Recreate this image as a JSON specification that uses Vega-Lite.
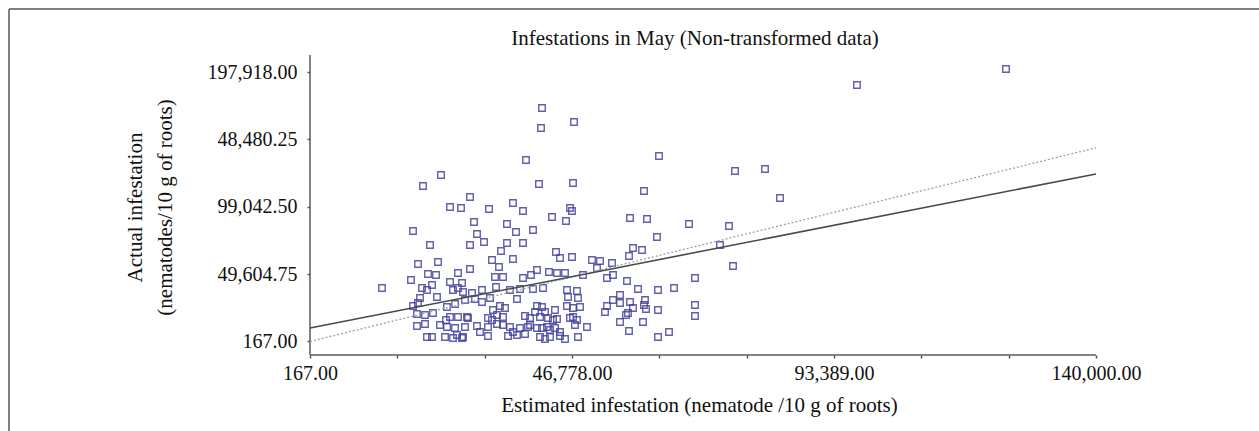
{
  "$schema": "https://vega.github.io/schema/vega-lite/v6.json",
  "autosize": {"type": "none"},
  "width": 1250,
  "height": 422,
  "padding": {"left": 9, "top": 9, "right": 0, "bottom": 0},
  "background": "white",
  "config": {"view": {"stroke": null}, "font": "Liberation Serif"},
  "title": {"text": "Infestations in May (Non-transformed data)", "font": "Liberation Serif", "fontSize": 21, "fontWeight": "normal", "color": "#111", "anchor": "middle", "frame": "group", "offset": 0, "dx": 61, "dy": 58, "baseline": "alphabetic"},
  "datasets": {
    "pts": [
      {"estimated": 123985, "actual": 200128}, {"estimated": 97478, "actual": 188387}, {"estimated": 41440, "actual": 171509}, {"estimated": 41262, "actual": 156833},
      {"estimated": 47133, "actual": 161236}, {"estimated": 62254, "actual": 136287}, {"estimated": 38593, "actual": 133352}, {"estimated": 23472, "actual": 122345},
      {"estimated": 20270, "actual": 114273}, {"estimated": 75775, "actual": 125280}, {"estimated": 81112, "actual": 126748}, {"estimated": 40906, "actual": 115741},
      {"estimated": 46955, "actual": 116474}, {"estimated": 59586, "actual": 110604}, {"estimated": 28631, "actual": 106201}, {"estimated": 83780, "actual": 105467},
      {"estimated": 36281, "actual": 101798}, {"estimated": 25073, "actual": 98863}, {"estimated": 27030, "actual": 98129}, {"estimated": 32011, "actual": 97396},
      {"estimated": 38060, "actual": 95928}, {"estimated": 46421, "actual": 98129}, {"estimated": 46777, "actual": 95928}, {"estimated": 43219, "actual": 91525},
      {"estimated": 45709, "actual": 88590}, {"estimated": 57095, "actual": 90791}, {"estimated": 60119, "actual": 90058}, {"estimated": 29343, "actual": 87856},
      {"estimated": 35213, "actual": 86389}, {"estimated": 36814, "actual": 80518}, {"estimated": 39839, "actual": 81986}, {"estimated": 18491, "actual": 81252},
      {"estimated": 67591, "actual": 86389}, {"estimated": 74707, "actual": 84921}, {"estimated": 61898, "actual": 76849}, {"estimated": 29876, "actual": 79051},
      {"estimated": 31122, "actual": 73180}, {"estimated": 28631, "actual": 70979}, {"estimated": 21515, "actual": 70979}, {"estimated": 35213, "actual": 72446},
      {"estimated": 38060, "actual": 72446}, {"estimated": 34146, "actual": 66576}, {"estimated": 43930, "actual": 65842}, {"estimated": 44642, "actual": 61439},
      {"estimated": 46777, "actual": 62173}, {"estimated": 57629, "actual": 68777}, {"estimated": 59230, "actual": 67310}, {"estimated": 56917, "actual": 62907},
      {"estimated": 73106, "actual": 70979}, {"estimated": 32545, "actual": 59972}, {"estimated": 36281, "actual": 60706}, {"estimated": 33790, "actual": 54835},
      {"estimated": 28631, "actual": 53368}, {"estimated": 19380, "actual": 57037}, {"estimated": 22938, "actual": 58504}, {"estimated": 50335, "actual": 59972},
      {"estimated": 51758, "actual": 59238}, {"estimated": 53893, "actual": 57770}, {"estimated": 51224, "actual": 54101}, {"estimated": 75419, "actual": 55569},
      {"estimated": 40550, "actual": 52634}, {"estimated": 42685, "actual": 51166}, {"estimated": 44108, "actual": 50432}, {"estimated": 45532, "actual": 50432},
      {"estimated": 48734, "actual": 48965}, {"estimated": 21159, "actual": 49699}, {"estimated": 22582, "actual": 48965}, {"estimated": 26496, "actual": 50432},
      {"estimated": 18135, "actual": 45296}, {"estimated": 33079, "actual": 47497}, {"estimated": 34502, "actual": 47497}, {"estimated": 38060, "actual": 46763},
      {"estimated": 39483, "actual": 48965}, {"estimated": 53003, "actual": 46763}, {"estimated": 54071, "actual": 48965}, {"estimated": 68659, "actual": 46763},
      {"estimated": 25073, "actual": 43828}, {"estimated": 27208, "actual": 43094}, {"estimated": 56561, "actual": 44562}, {"estimated": 21871, "actual": 41627},
      {"estimated": 20092, "actual": 39425}, {"estimated": 20981, "actual": 37958}, {"estimated": 25607, "actual": 37958}, {"estimated": 27386, "actual": 36490},
      {"estimated": 28987, "actual": 35756}, {"estimated": 30766, "actual": 37958}, {"estimated": 33256, "actual": 40159}, {"estimated": 35747, "actual": 37958},
      {"estimated": 37526, "actual": 38692}, {"estimated": 39839, "actual": 38692}, {"estimated": 41618, "actual": 39425}, {"estimated": 45887, "actual": 37958},
      {"estimated": 47666, "actual": 37224}, {"estimated": 58518, "actual": 38692}, {"estimated": 62076, "actual": 37958}, {"estimated": 64923, "actual": 39425},
      {"estimated": 19736, "actual": 32087}, {"estimated": 22760, "actual": 32821}, {"estimated": 27742, "actual": 30620}, {"estimated": 29521, "actual": 31354},
      {"estimated": 30766, "actual": 29152}, {"estimated": 32189, "actual": 32087}, {"estimated": 36992, "actual": 31354}, {"estimated": 46065, "actual": 32821},
      {"estimated": 47844, "actual": 32087}, {"estimated": 55316, "actual": 34289}, {"estimated": 54071, "actual": 30620}, {"estimated": 59764, "actual": 30620},
      {"estimated": 19380, "actual": 28418}, {"estimated": 18491, "actual": 26217}, {"estimated": 25963, "actual": 27685}, {"estimated": 24539, "actual": 25483},
      {"estimated": 33968, "actual": 26217}, {"estimated": 34858, "actual": 24749}, {"estimated": 32723, "actual": 23282}, {"estimated": 40550, "actual": 26217},
      {"estimated": 41440, "actual": 25483}, {"estimated": 40195, "actual": 21814}, {"estimated": 41974, "actual": 21814}, {"estimated": 43753, "actual": 23282},
      {"estimated": 45887, "actual": 26217}, {"estimated": 46955, "actual": 24749}, {"estimated": 48200, "actual": 25483}, {"estimated": 53003, "actual": 26217},
      {"estimated": 52648, "actual": 21814}, {"estimated": 57095, "actual": 29152}, {"estimated": 57629, "actual": 24749}, {"estimated": 55316, "actual": 28418},
      {"estimated": 59586, "actual": 26951}, {"estimated": 59941, "actual": 24016}, {"estimated": 62076, "actual": 23282}, {"estimated": 68659, "actual": 26951},
      {"estimated": 68659, "actual": 18879}, {"estimated": 19202, "actual": 20347}, {"estimated": 20626, "actual": 19613}, {"estimated": 22049, "actual": 21080},
      {"estimated": 25073, "actual": 18145}, {"estimated": 26496, "actual": 18145}, {"estimated": 28275, "actual": 17411}, {"estimated": 31833, "actual": 17411},
      {"estimated": 33434, "actual": 19613}, {"estimated": 34502, "actual": 18145}, {"estimated": 38416, "actual": 18879}, {"estimated": 39305, "actual": 17411},
      {"estimated": 41084, "actual": 18145}, {"estimated": 42507, "actual": 17411}, {"estimated": 44108, "actual": 16678}, {"estimated": 46955, "actual": 18145},
      {"estimated": 47666, "actual": 15944}, {"estimated": 55316, "actual": 14476}, {"estimated": 56739, "actual": 21080}, {"estimated": 59408, "actual": 14476},
      {"estimated": 19202, "actual": 11541}, {"estimated": 20626, "actual": 13009}, {"estimated": 23294, "actual": 12275}, {"estimated": 24539, "actual": 10807},
      {"estimated": 25963, "actual": 10073}, {"estimated": 27742, "actual": 10807}, {"estimated": 29876, "actual": 11541}, {"estimated": 31833, "actual": 10807},
      {"estimated": 33434, "actual": 13009}, {"estimated": 34502, "actual": 12275}, {"estimated": 35747, "actual": 10807}, {"estimated": 37526, "actual": 10073},
      {"estimated": 38949, "actual": 10807}, {"estimated": 40550, "actual": 10073}, {"estimated": 42329, "actual": 10807}, {"estimated": 43753, "actual": 10073},
      {"estimated": 47311, "actual": 12275}, {"estimated": 49445, "actual": 10807}, {"estimated": 56917, "actual": 7872}, {"estimated": 20981, "actual": 3469},
      {"estimated": 21871, "actual": 3469}, {"estimated": 24184, "actual": 3469}, {"estimated": 25607, "actual": 2735}, {"estimated": 27208, "actual": 2735},
      {"estimated": 31833, "actual": 4203}, {"estimated": 35391, "actual": 4203}, {"estimated": 36992, "actual": 4937}, {"estimated": 38416, "actual": 5671},
      {"estimated": 41084, "actual": 3469}, {"estimated": 41974, "actual": 2002}, {"estimated": 42863, "actual": 3469}, {"estimated": 44642, "actual": 4203},
      {"estimated": 45532, "actual": 2002}, {"estimated": 47844, "actual": 3469}, {"estimated": 62076, "actual": 3469}, {"estimated": 64033, "actual": 7138},
      {"estimated": 12976, "actual": 39425}, {"estimated": 30410, "actual": 7138}, {"estimated": 32545, "actual": 15944}, {"estimated": 36281, "actual": 7138},
      {"estimated": 26318, "actual": 4937}, {"estimated": 27386, "actual": 3469}, {"estimated": 42863, "actual": 8606}, {"estimated": 44642, "actual": 7138},
      {"estimated": 41440, "actual": 10073}, {"estimated": 39305, "actual": 12275}, {"estimated": 56383, "actual": 19613}, {"estimated": 43397, "actual": 15944},
      {"estimated": 46421, "actual": 17411}, {"estimated": 26496, "actual": 39425}, {"estimated": 24361, "actual": 15944}, {"estimated": 28097, "actual": 18145}
    ],
    "regression": [{"estimated": 167, "actual": 10073}, {"estimated": 140000, "actual": 123100}],
    "identity": [{"estimated": 167, "actual": 167}, {"estimated": 140000, "actual": 142300}]
  },
  "layer": [
    {
      "data": {"name": "pts"},
      "mark": {"type": "point", "shape": "square", "filled": false, "size": 42, "strokeWidth": 1.4, "color": "#4444a0", "opacity": 0.85},
      "encoding": {
        "x": {
          "field": "estimated", "type": "quantitative",
          "scale": {"domain": [-53383, 168998], "nice": false, "zero": false},
          "axis": {
            "values": [167, 15704, 31241, 46778, 62315, 77852, 93389, 108926, 124463, 140000],
            "labelExpr": "(abs(datum.value - 167) < 1 || abs(datum.value - 46778) < 1 || abs(datum.value - 93389) < 1 || abs(datum.value - 140000) < 1) ? format(datum.value, ',.2f') : ''",
            "domain": false, "grid": false, "offset": -76,
            "tickSize": 3, "tickWidth": 1.5, "tickColor": "#555",
            "labelFont": "Liberation Serif", "labelFontSize": 20, "labelColor": "#111", "labelPadding": 5,
            "labelOverlap": false, "labelFlush": false, "labelBound": false,
            "title": "Estimated infestation (nematode /10 g of roots)",
            "titleFont": "Liberation Serif", "titleFontSize": 21, "titleFontWeight": "normal", "titleColor": "#111",
            "titleX": 690, "titleY": 50, "titleBaseline": "middle", "titleAlign": "center"
          }
        },
        "y": {
          "field": "actual", "type": "quantitative",
          "scale": {"domain": [-65507, 244146], "nice": false, "zero": false},
          "axis": {
            "values": [167, 49605, 99042, 148480, 197918],
            "labelExpr": "datum.value < 1000 ? '167.00' : (datum.value < 60000 ? '49,604.75' : (datum.value < 120000 ? '99,042.50' : (datum.value < 170000 ? '48,480.25' : '197,918.00')))",
            "domain": false, "grid": false, "offset": -301,
            "tickSize": 3, "tickWidth": 1.5, "tickColor": "#555",
            "labelFont": "Liberation Serif", "labelFontSize": 20,
            "labelColor": "#111", "labelPadding": 10,
            "labelOverlap": false, "labelFlush": false, "labelBound": false,
            "title": ["Actual infestation", "(nematodes/10 g of roots)"],
            "titleFont": "Liberation Serif", "titleFontSize": 21, "titleFontWeight": "normal", "titleColor": "#111",
            "titleLineHeight": 30, "titleAngle": -90, "titleX": -175, "titleY": 198, "titleBaseline": "middle", "titleAlign": "center"
          }
        }
      }
    },
    {
      "data": {"values": [{}]},
      "mark": {"type": "rule", "color": "#808080", "strokeWidth": 2},
      "encoding": {"y": {"datum": 244146, "type": "quantitative"}}
    },
    {
      "data": {"values": [{}]},
      "mark": {"type": "rule", "color": "#808080", "strokeWidth": 2},
      "encoding": {"x": {"datum": -53383, "type": "quantitative"}}
    },
    {
      "data": {"values": [{}]},
      "mark": {"type": "rule", "color": "#5a5a5a", "strokeWidth": 1.5},
      "encoding": {
        "x": {"datum": 167, "type": "quantitative"},
        "x2": {"datum": 140000},
        "y": {"datum": -9739, "type": "quantitative"}
      }
    },
    {
      "data": {"values": [{}]},
      "mark": {"type": "rule", "color": "#5a5a5a", "strokeWidth": 1.5},
      "encoding": {
        "x": {"datum": 167, "type": "quantitative"},
        "y": {"datum": -9739, "type": "quantitative"},
        "y2": {"datum": 210392}
      }
    },
    {
      "data": {"name": "identity"},
      "mark": {"type": "line", "color": "#a0a0a0", "strokeWidth": 1.3, "strokeDash": [2, 2]},
      "encoding": {
        "x": {"field": "estimated", "type": "quantitative"},
        "y": {"field": "actual", "type": "quantitative"}
      }
    },
    {
      "data": {"name": "regression"},
      "mark": {"type": "line", "color": "#4a4a4a", "strokeWidth": 1.6},
      "encoding": {
        "x": {"field": "estimated", "type": "quantitative"},
        "y": {"field": "actual", "type": "quantitative"}
      }
    }
  ]
}
